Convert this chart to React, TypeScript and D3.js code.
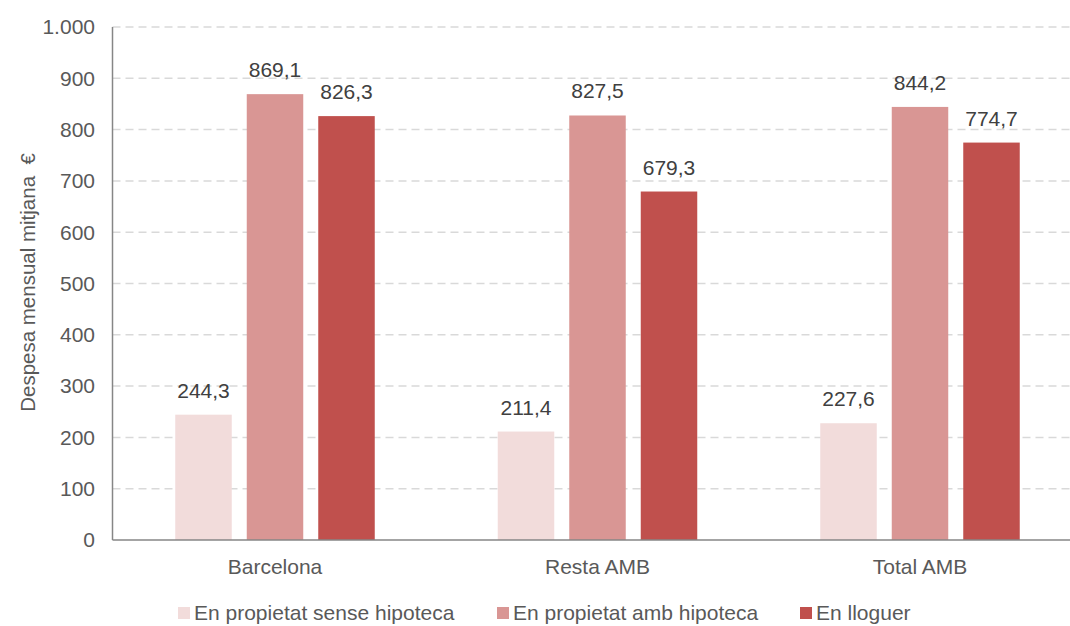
import React from "react";
import * as d3 from "d3";

const categories = ["Barcelona", "Resta AMB", "Total AMB"];
const seriesNames = ["En propietat sense hipoteca", "En propietat amb hipoteca", "En lloguer"];
const sinHipoteca = [244.3, 211.4, 227.6];
const ambHipoteca = [869.1, 827.5, 844.2];
const lloguer = [826.3, 679.3, 774.7];
const seriesColors = ["#F2DCDB", "#D99694", "#C0504D"];
const yTicks = [0, 100, 200, 300, 400, 500, 600, 700, 800, 900, 1000];
const yTitle = "Despesa mensual mitjana  €";

const W = 1070;
const H = 626;
const FONT = "'Liberation Sans', Arial, sans-serif";

const fmtTick = (v: number) => (v >= 1000 ? d3.format(",")(v).replace(",", ".") : String(v));
const fmtVal = (v: number) => v.toFixed(1).replace(".", ",");

export default function App() {
  const seriesValues = [sinHipoteca, ambHipoteca, lloguer];
  const y = d3.scaleLinear().domain([0, 1000]).range([540, 27]);
  const x0 = d3.scaleBand<string>().domain(categories).range([113.75, 1081.25]).padding(0);
  const x1 = d3
    .scaleBand<string>()
    .domain(seriesNames)
    .range([0, 199.5])
    .paddingInner(15 / 71.5)
    .paddingOuter(0);
  const axisX = 112.5;
  const legendX = [178, 497, 800];

  return (
    <svg
      width={W}
      height={H}
      style={{ position: "absolute", left: 0, top: 0, background: "#fff" }}
      fontFamily={FONT}
    >
      {yTicks
        .filter((t) => t > 0)
        .map((t) => (
          <line
            key={"g" + t}
            x1={axisX}
            x2={W}
            y1={y(t)}
            y2={y(t)}
            stroke="#D9D9D9"
            strokeWidth={1.5}
            strokeDasharray="8,5"
          />
        ))}
      {yTicks.map((t) => (
        <text
          key={"t" + t}
          x={95}
          y={y(t)}
          dy="0.35em"
          textAnchor="end"
          fontSize={21}
          fill="#595959"
        >
          {fmtTick(t)}
        </text>
      ))}
      {categories.map((c, ci) => {
        const gx = (x0(c) as number) + x0.bandwidth() / 2 - 99.75;
        return seriesNames.map((s, si) => {
          const v = seriesValues[si][ci];
          const bx = gx + (x1(s) as number);
          return (
            <g key={c + s}>
              <rect
                x={bx}
                y={y(v)}
                width={x1.bandwidth()}
                height={y(0) - y(v)}
                fill={seriesColors[si]}
              />
              <text
                x={bx + x1.bandwidth() / 2}
                y={y(v) - 17}
                textAnchor="middle"
                fontSize={21}
                fill="#404040"
              >
                {fmtVal(v)}
              </text>
            </g>
          );
        });
      })}
      <line x1={axisX} x2={axisX} y1={y(1000)} y2={y(0)} stroke="#868686" strokeWidth={1.5} />
      <line x1={axisX} x2={W} y1={y(0)} y2={y(0)} stroke="#868686" strokeWidth={1.5} />
      {categories.map((c) => (
        <text
          key={"c" + c}
          x={(x0(c) as number) + x0.bandwidth() / 2}
          y={574}
          textAnchor="middle"
          fontSize={21}
          fill="#595959"
        >
          {c}
        </text>
      ))}
      <text
        transform={`translate(35, 282.5) rotate(-90)`}
        textAnchor="middle"
        fontSize={20.5}
        fill="#595959"
        style={{ whiteSpace: "pre" }}
      >
        {yTitle}
      </text>
      {seriesNames.map((s, i) => (
        <g key={"l" + s}>
          <rect x={legendX[i]} y={607} width={12} height={12} fill={seriesColors[i]} />
          <text x={legendX[i] + 16} y={620} fontSize={21} fill="#595959">
            {s}
          </text>
        </g>
      ))}
    </svg>
  );
}
